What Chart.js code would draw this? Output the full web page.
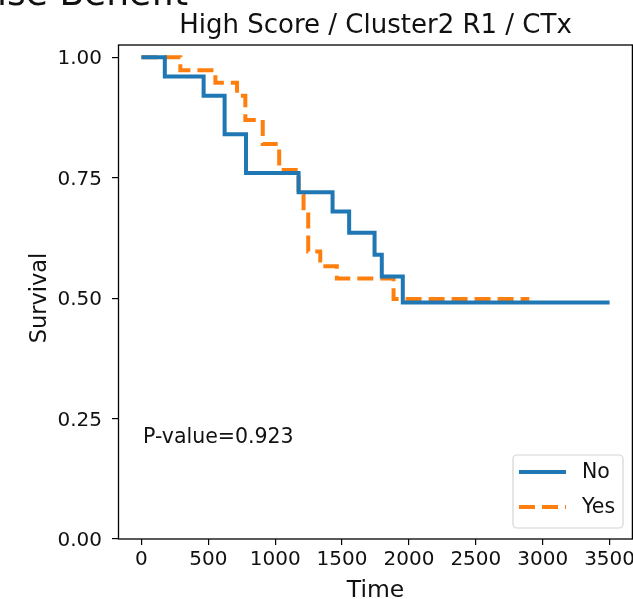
<!DOCTYPE html>
<html>
<head>
<meta charset="utf-8">
<script src="https://cdn.jsdelivr.net/npm/chart.js@4.4.1/dist/chart.umd.min.js"></script>
<style>
  html, body { margin: 0; padding: 0; background: #ffffff; }
  canvas { display: block; }
</style>
</head>
<body>
<canvas id="km" width="633" height="599"></canvas>
<script>
// Kaplan-Meier step curves: time of each event and survival after it
const seriesNames = ['No', 'Yes'];
const noTimes     = [0, 175, 465, 622, 782, 1175, 1429, 1553, 1743, 1797, 1954, 3500];
const noSurvival  = [1.0, 0.96, 0.92, 0.84, 0.76, 0.72, 0.68, 0.636, 0.59, 0.545, 0.491, 0.491];
const yesTimes    = [0, 291, 553, 715, 777, 907, 1030, 1175, 1212, 1247, 1337, 1461, 1885, 2900];
const yesSurvival = [1.0, 0.973, 0.947, 0.92, 0.87, 0.82, 0.766, 0.715, 0.68, 0.597, 0.566, 0.541, 0.498, 0.498];

const xTicks = [0, 500, 1000, 1500, 2000, 2500, 3000, 3500];
const yTicks = [0.0, 0.25, 0.5, 0.75, 1.0];

const figureHeading = 'ise Benefit';
const titleText = 'High Score / Cluster2 R1 / CTx';
const xLabel = 'Time';
const yLabel = 'Survival';
const pValueText = 'P-value=0.923';

const seriesColors = ['#1f77b4', '#ff7f0e'];
const FONT = '"DejaVu Sans", "Liberation Sans", sans-serif';
const TEXT = '#111111';

function toPoints(xs, ys) {
  return xs.map((x, i) => ({ x: x, y: ys[i] }));
}

const datasets = [
  {
    label: seriesNames[0],
    data: toPoints(noTimes, noSurvival),
    borderColor: seriesColors[0],
    borderWidth: 4,
    borderCapStyle: 'butt',
    borderJoinStyle: 'miter',
    stepped: 'before',
    pointRadius: 0,
    fill: false
  },
  {
    label: seriesNames[1],
    data: toPoints(yesTimes, yesSurvival),
    borderColor: seriesColors[1],
    borderWidth: 4,
    borderDash: [16, 7],
    borderCapStyle: 'butt',
    borderJoinStyle: 'miter',
    stepped: 'before',
    pointRadius: 0,
    fill: false
  }
];

// Frame, titles, annotation and legend drawn on top of the plot
const decorations = {
  id: 'decorations',
  afterDraw(chart) {
    const ctx = chart.ctx;
    const a = chart.chartArea;
    ctx.save();

    // axes frame
    ctx.strokeStyle = '#000000';
    ctx.lineWidth = 1.3;
    ctx.strokeRect(a.left + 0.5, a.top, a.right - a.left - 1.1, a.bottom - a.top);

    ctx.fillStyle = TEXT;

    // figure heading (runs off the top edge)
    ctx.font = '36px ' + FONT;
    ctx.textAlign = 'right';
    ctx.textBaseline = 'alphabetic';
    ctx.fillText(figureHeading, 188, 5);

    // plot title
    ctx.font = '26px ' + FONT;
    ctx.textAlign = 'center';
    ctx.fillText(titleText, (a.left + a.right) / 2, 33);

    // axis labels
    ctx.font = '23.5px ' + FONT;
    ctx.fillText(xLabel, (a.left + a.right) / 2, 597);
    ctx.save();
    ctx.font = '22.5px ' + FONT;
    ctx.translate(40, (a.top + a.bottom) / 2 + 6);
    ctx.rotate(-Math.PI / 2);
    ctx.textBaseline = 'middle';
    ctx.fillText(yLabel, 0, 0);
    ctx.restore();

    // p-value annotation
    ctx.font = '20.5px ' + FONT;
    ctx.textAlign = 'left';
    ctx.textBaseline = 'alphabetic';
    ctx.fillText(pValueText, 143, 443);

    // legend
    const bx = 513, by = 455, bw = 110, bh = 73, r = 4;
    ctx.fillStyle = 'rgba(255,255,255,0.85)';
    ctx.strokeStyle = '#d4d4d4';
    ctx.lineWidth = 1.2;
    ctx.beginPath();
    ctx.roundRect(bx, by, bw, bh, r);
    ctx.fill();
    ctx.stroke();

    const rows = [472, 507];
    chart.data.datasets.forEach((ds, i) => {
      ctx.strokeStyle = ds.borderColor;
      ctx.lineWidth = ds.borderWidth;
      ctx.lineCap = 'butt';
      ctx.setLineDash(ds.borderDash || []);
      ctx.beginPath();
      ctx.moveTo(519, rows[i]);
      ctx.lineTo(566, rows[i]);
      ctx.stroke();
      ctx.setLineDash([]);
      ctx.fillStyle = TEXT;
      ctx.font = '20.5px ' + FONT;
      ctx.textAlign = 'left';
      ctx.textBaseline = 'middle';
      ctx.fillText(ds.label, 582, rows[i] + 1);
    });

    ctx.restore();
  }
};

new Chart(document.getElementById('km'), {
  type: 'line',
  data: { datasets: datasets },
  options: {
    responsive: false,
    animation: false,
    devicePixelRatio: 1,
    layout: { padding: { left: 0, top: 45, right: 0, bottom: 0 } },
    plugins: {
      legend: { display: false },
      title: { display: false },
      tooltip: { enabled: false }
    },
    scales: {
      x: {
        type: 'linear',
        min: -175,
        max: 3675,
        afterFit(scale) {
          scale.height = 60;
          scale.paddingLeft = 0;
          scale.paddingRight = 0;
        },
        afterBuildTicks(scale) { scale.ticks = xTicks.map(v => ({ value: v })); },
        ticks: {
          includeBounds: false,
          color: TEXT,
          font: { family: FONT, size: 20 },
          padding: 3,
          maxRotation: 0,
          autoSkip: false,
          callback: v => String(v)
        },
        grid: {
          drawOnChartArea: false,
          drawTicks: true,
          tickLength: 6,
          color: '#000000',
          lineWidth: 1.2
        },
        border: { display: false }
      },
      y: {
        type: 'linear',
        min: 0,
        max: 1.0255,
        afterFit(scale) {
          scale.width = 118;
          scale.paddingTop = 0;
          scale.paddingBottom = 0;
        },
        afterBuildTicks(scale) { scale.ticks = yTicks.map(v => ({ value: v })); },
        ticks: {
          includeBounds: false,
          color: TEXT,
          font: { family: FONT, size: 20 },
          padding: 10,
          labelOffset: 2,
          autoSkip: false,
          callback: v => v.toFixed(2)
        },
        grid: {
          drawOnChartArea: false,
          drawTicks: true,
          tickLength: 6,
          color: '#000000',
          lineWidth: 1.2
        },
        border: { display: false }
      }
    }
  },
  plugins: [decorations]
});
</script>
</body>
</html>
